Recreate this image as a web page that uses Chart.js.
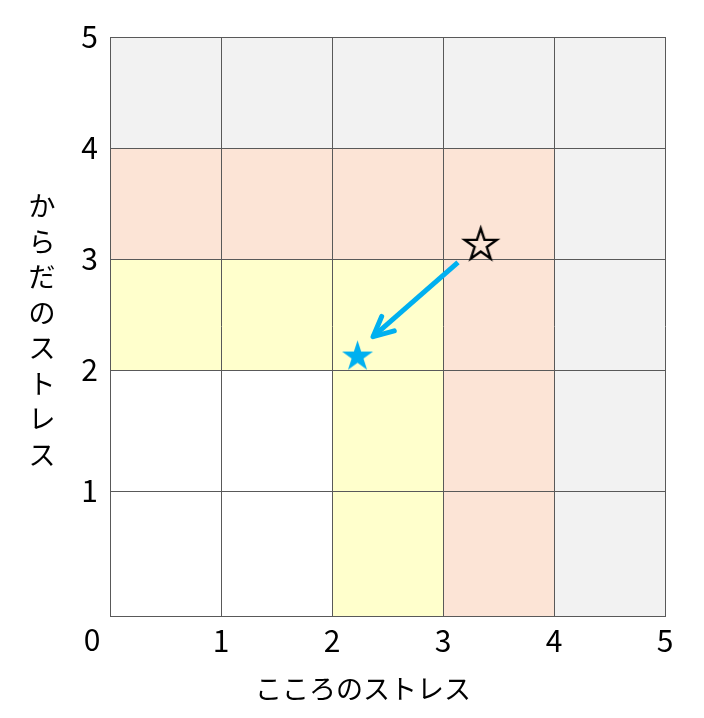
<!DOCTYPE html>
<html>
<head>
<meta charset="utf-8">
<script src="https://cdn.jsdelivr.net/npm/chart.js@4.4.0/dist/chart.umd.min.js"></script>
<style>
  html, body { margin: 0; padding: 0; background: #fff; }
  #wrap { width: 704px; height: 718px; }
</style>
</head>
<body>
<div id="wrap"><canvas id="chart" width="704" height="718"></canvas></div>
<script>
// axis values
var xTicks = [0, 1, 2, 3, 4, 5];
var yTicks = [0, 1, 2, 3, 4, 5];
var xTitle = 'こころのストレス';
var yTitle = 'からだのストレス';

// zone of each cell, rows from y=0 upward, columns from x=0
var zones = [
    [0, 0, 1, 2, 3],
    [0, 0, 1, 2, 3],
    [1, 1, 1, 2, 3],
    [2, 2, 2, 2, 3],
    [3, 3, 3, 3, 3]
];

// before / after positions and the arrow between them
var beforePoint = [{ x: 3.34, y: 3.14 }];
var afterPoint = [{ x: 2.23, y: 2.135 }];
var arrowPoints = [{ x: 3.135, y: 2.97 }, { x: 2.37, y: 2.30 }];

var zoneColors = ['#ffffff', '#ffffcc', '#fce4d6', '#f2f2f2'];
var gridColor = '#595959';
var blue = '#00b0f0';
var labelFont = '"Noto Sans CJK JP", "Noto Sans", sans-serif';

// y axis in the picture has uneven rows, so map each unit with its own height
class PiecewiseScale extends Chart.LinearScale {
    static id = 'piecewise';
    static defaults = {};

    _decimalFor(value) {
        var w = this.options.weights;
        var total = 0, i;
        for (i = 0; i < w.length; i++) total += w[i];
        var v = value - this.min;
        var idx = Math.max(0, Math.min(Math.floor(v), w.length - 1));
        var acc = 0;
        for (i = 0; i < idx; i++) acc += w[i];
        return (acc + (v - idx) * w[idx]) / total;
    }

    getPixelForValue(value) {
        return this.getPixelForDecimal(this._decimalFor(value));
    }

    getValueForPixel(pixel) {
        var w = this.options.weights;
        var total = 0, i;
        for (i = 0; i < w.length; i++) total += w[i];
        var d = this.getDecimalForPixel(pixel) * total;
        var acc = 0;
        for (i = 0; i < w.length; i++) {
            if (d <= acc + w[i] || i === w.length - 1) return this.min + i + (d - acc) / w[i];
            acc += w[i];
        }
        return this.max;
    }
}
Chart.register(PiecewiseScale);

function makeStar(radius, fill, stroke, lineWidth) {
    var size = Math.ceil(radius * 2 + lineWidth * 2 + 2);
    var c = document.createElement('canvas');
    c.width = size;
    c.height = size;
    var g = c.getContext('2d');
    var cx = size / 2, cy = size / 2 + radius * 0.095;
    var inner = radius * 0.382;
    g.beginPath();
    for (var i = 0; i < 10; i++) {
        var r = i % 2 === 0 ? radius : inner;
        var a = -Math.PI / 2 + i * Math.PI / 5;
        var px = cx + r * Math.cos(a), py = cy + r * Math.sin(a);
        if (i === 0) g.moveTo(px, py); else g.lineTo(px, py);
    }
    g.closePath();
    if (fill) { g.fillStyle = fill; g.fill(); }
    if (stroke) { g.lineWidth = lineWidth; g.strokeStyle = stroke; g.lineJoin = 'miter'; g.stroke(); }
    return c;
}

var cellPlugin = {
    id: 'cells',
    beforeDraw: function(chart) {
        var ctx = chart.ctx, xs = chart.scales.x, ys = chart.scales.y;
        ctx.save();
        zones.forEach(function(row, r) {
            row.forEach(function(z, c) {
                var x0 = xs.getPixelForValue(xTicks[c]), x1 = xs.getPixelForValue(xTicks[c + 1]);
                var y0 = ys.getPixelForValue(yTicks[r + 1]), y1 = ys.getPixelForValue(yTicks[r]);
                ctx.fillStyle = zoneColors[z];
                ctx.fillRect(x0, y0, x1 - x0, y1 - y0);
            });
        });
        ctx.restore();
    }
};

var arrowPlugin = {
    id: 'arrowHead',
    afterDatasetsDraw: function(chart) {
        var pts = chart.getDatasetMeta(0).data;
        if (pts.length < 2) return;
        var p0 = pts[0], p1 = pts[1];
        var ang = Math.atan2(p0.y - p1.y, p0.x - p1.x);
        var len = 22, spread = 0.45;
        var ctx = chart.ctx;
        ctx.save();
        ctx.strokeStyle = blue;
        ctx.lineWidth = 5;
        ctx.lineCap = 'round';
        ctx.lineJoin = 'round';
        ctx.beginPath();
        ctx.moveTo(p1.x + len * Math.cos(ang - spread), p1.y + len * Math.sin(ang - spread));
        ctx.lineTo(p1.x, p1.y);
        ctx.lineTo(p1.x + len * Math.cos(ang + spread), p1.y + len * Math.sin(ang + spread));
        ctx.stroke();
        ctx.restore();
    }
};

var titlePlugin = {
    id: 'titles',
    afterDraw: function(chart) {
        var ctx = chart.ctx, area = chart.chartArea;
        ctx.save();
        ctx.fillStyle = '#000';
        ctx.textAlign = 'center';
        ctx.textBaseline = 'middle';
        // corner zero
        ctx.font = '30px ' + labelFont;
        ctx.fillText(String(xTicks[0]), area.left - 18, area.bottom + 24);
        // x title
        ctx.font = '27px ' + labelFont;
        ctx.fillText(xTitle, 363, 689);
        // y title, stacked upright
        var chars = Array.from(yTitle);
        var pitch = 35.5;
        var startY = 330 - pitch * (chars.length - 1) / 2;
        chars.forEach(function(ch, i) {
            ctx.fillText(ch, 42, startY + i * pitch);
        });
        ctx.restore();
    }
};

new Chart(document.getElementById('chart'), {
    type: 'scatter',
    data: {
        datasets: [{
            type: 'line',
            data: arrowPoints,
            borderColor: blue,
            borderWidth: 5,
            pointRadius: 0,
            borderCapStyle: 'butt',
            fill: false
        }, {
            data: beforePoint,
            pointStyle: makeStar(16.8, null, '#000', 2.4),
            pointRadius: 17
        }, {
            data: afterPoint,
            pointStyle: makeStar(16.3, blue, null, 0),
            pointRadius: 17
        }]
    },
    options: {
        responsive: false,
        animation: false,
        layout: { padding: { left: 0, right: 39, top: 37, bottom: 0 } },
        plugins: {
            legend: { display: false },
            tooltip: { enabled: false }
        },
        scales: {
            x: {
                type: 'linear',
                min: xTicks[0],
                max: xTicks[xTicks.length - 1],
                afterBuildTicks: function(scale) {
                    scale.ticks = xTicks.map(function(v) { return { value: v }; });
                },
                afterFit: function(scale) { scale.height = 102; },
                grid: { color: gridColor, lineWidth: 1, drawTicks: false },
                border: { color: gridColor, width: 1 },
                ticks: {
                    padding: 7,
                    color: '#000',
                    font: { size: 30, family: labelFont },
                    callback: function(v) { return v === 0 ? '' : String(v); }
                }
            },
            y: {
                type: 'piecewise',
                weights: [125, 121, 111, 111, 111],
                min: yTicks[0],
                max: yTicks[yTicks.length - 1],
                afterBuildTicks: function(scale) {
                    scale.ticks = yTicks.map(function(v) { return { value: v }; });
                },
                afterFit: function(scale) { scale.width = 110; },
                grid: { color: gridColor, lineWidth: 1, drawTicks: false },
                border: { color: gridColor, width: 1 },
                ticks: {
                    padding: 12,
                    color: '#000',
                    font: { size: 30, family: labelFont },
                    callback: function(v) { return v === 0 ? '' : String(v); }
                }
            }
        }
    },
    plugins: [cellPlugin, arrowPlugin, titlePlugin]
});
</script>
</body>
</html>
